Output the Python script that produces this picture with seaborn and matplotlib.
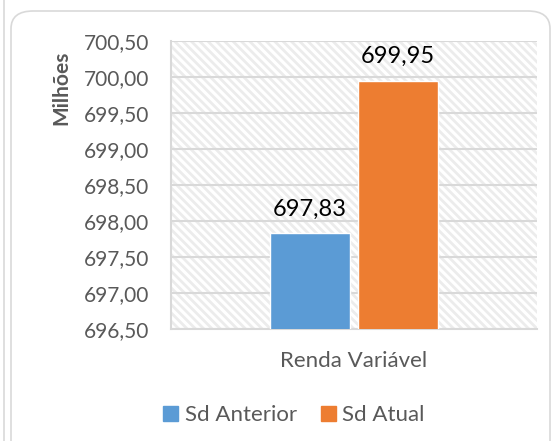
import pandas as pd
import matplotlib.pyplot as plt
import seaborn as sns
from matplotlib.patches import FancyBboxPatch
from matplotlib.lines import Line2D
from matplotlib.ticker import FuncFormatter

# Dados
categorias = ["Renda Variável"]
series = ["Sd Anterior", "Sd Atual"]
valores = [697.83, 699.95]
cores = ["#5B9BD5", "#ED7D31"]
y_min, y_max, y_passo = 696.5, 700.5, 0.5

df = pd.DataFrame({
    "Categoria": categorias * len(series),
    "Serie": series,
    "Valor": valores,
})

sns.set_style("white")
plt.rcParams["font.family"] = ["Lato", "DejaVu Sans"]
plt.rcParams["hatch.color"] = "#ececec"
plt.rcParams["hatch.linewidth"] = 2.0

fig = plt.figure(figsize=(5.55, 4.41), dpi=100)
ax = fig.add_axes([171 / 555, 1 - 329 / 441, 366 / 555, 288 / 441])

# fundo hachurado
ax.patch.set_facecolor("white")
ax.patch.set_hatch("\\\\\\\\")
ax.patch.set_edgecolor("#ececec")
ax.patch.set_linewidth(0)

sns.barplot(data=df, x="Categoria", y="Valor", hue="Serie", palette=cores,
            saturation=1, width=0.48, gap=0.08, ax=ax, legend=False, zorder=3)

ax.set_ylim(y_min, y_max)
ax.set_yticks([y_min + i * y_passo for i in range(int((y_max - y_min) / y_passo) + 1)])
ax.yaxis.set_major_formatter(FuncFormatter(lambda v, p: f"{v:.2f}".replace(".", ",")))
ax.grid(axis="y", color="#d9d9d9", linewidth=1.5, zorder=1)
ax.set_axisbelow(True)

for lado in ["top", "right"]:
    ax.spines[lado].set_visible(False)
for lado in ["left", "bottom"]:
    ax.spines[lado].set_color("#d9d9d9")
    ax.spines[lado].set_linewidth(1.5)

ax.tick_params(axis="both", length=0, labelcolor="#595959")
ax.tick_params(axis="y", pad=16, labelsize=15)
ax.tick_params(axis="x", pad=16, labelsize=16)
ax.set_xlabel("")
ax.set_ylabel("")

for cont in ax.containers:
    ax.bar_label(cont, labels=[f"{v:.2f}".replace(".", ",") for v in cont.datavalues],
                 padding=10, fontsize=17, color="black")

fig.text(61 / 555, 1 - 88 / 441, "Milhões", rotation=90, ha="center", va="center",
         fontsize=15, fontweight="bold", color="#595959")

# legenda
handles = [plt.Rectangle((0, 0), 1, 1, color=c) for c in cores]
fig.legend(handles, series, loc="center", bbox_to_anchor=(294 / 555, 1 - 415 / 441),
           ncol=2, frameon=False, fontsize=16, labelcolor="#595959",
           handlelength=0.65, handleheight=0.65, handletextpad=0.3, columnspacing=1.1)

# moldura do gráfico
fig.patches.append(FancyBboxPatch((11 / 555, -0.2), 539 / 555, 1.2 - 11 / 441,
                                  boxstyle="round,pad=0,rounding_size=0.04",
                                  transform=fig.transFigure, fill=False,
                                  edgecolor="#d9d9d9", linewidth=1.2))
fig.lines.append(Line2D([4 / 555, 4 / 555], [0, 1], transform=fig.transFigure,
                        color="#d9d9d9", linewidth=1.2))

fig.savefig("out.png", dpi=100)
